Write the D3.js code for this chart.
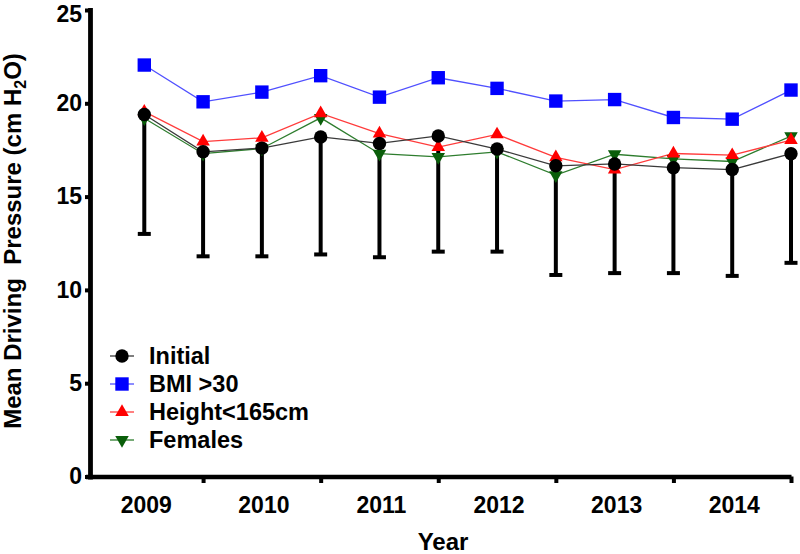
<!DOCTYPE html>
<html>
<head>
<meta charset="utf-8">
<script src="https://cdn.jsdelivr.net/npm/d3@7"></script>
<style>
  html, body { margin: 0; padding: 0; background: #fff; }
  svg { display: block; font-family: "Liberation Sans", Arial, sans-serif; }
</style>
</head>
<body>
<svg id="chart" width="800" height="554"></svg>
<script>
// ---- data ----
const years = ["2009", "2010", "2011", "2012", "2013", "2014"];
const periods = [1, 2, 3, 4, 5, 6, 7, 8, 9, 10, 11, 12];
const initialMean = [19.4, 17.4, 17.6, 18.2, 17.85, 18.25, 17.55, 16.65, 16.75, 16.55, 16.45, 17.3];
const initialSD   = [6.4, 5.6, 5.8, 6.3, 6.1, 6.2, 5.5, 5.85, 5.85, 5.65, 5.7, 5.85];
const bmiOver30   = [22.05, 20.08, 20.6, 21.48, 20.33, 21.37, 20.8, 20.12, 20.2, 19.24, 19.15, 20.71];
const heightUnder165 = [19.55, 17.95, 18.15, 19.46, 18.38, 17.65, 18.33, 17.1, 16.45, 17.31, 17.22, 18.03];
const females     = [19.2, 17.3, 17.58, 19.22, 17.3, 17.13, 17.4, 16.15, 17.27, 17.02, 16.88, 18.24];
const yTicks = [0, 5, 10, 15, 20, 25];

const series = [
  { name: "Females",        values: females,        marker: "down",   fill: "#0a5e0a", line: "#2e7d2e" },
  { name: "Height<165cm",   values: heightUnder165, marker: "up",     fill: "#ff0000", line: "#ff3b3b" },
  { name: "BMI >30",        values: bmiOver30,      marker: "square", fill: "#0000ff", line: "#5050ff" },
  { name: "Initial",        values: initialMean,    marker: "circle", fill: "#000000", line: "#3a3a3a" }
];
const legendOrder = ["Initial", "BMI >30", "Height<165cm", "Females"];

// ---- scales ----
const svg = d3.select("#chart");
const x = d3.scaleLinear().domain([0, 12]).range([85.5, 791]);
const y = d3.scaleLinear().domain([0, 25]).range([476.5, 10]);
const axisX0 = 90;

function markerPath(type) {
  if (type === "circle") {
    const r = 6.7;
    return `M${-r},0A${r},${r} 0 1,0 ${r},0A${r},${r} 0 1,0 ${-r},0Z`;
  }
  if (type === "square") {
    const h = 6.7;
    return `M${-h},${-h}H${h}V${h}H${-h}Z`;
  }
  const s = 13.5, hgt = s * Math.sqrt(3) / 2;
  if (type === "up") return `M0,${-hgt * 2 / 3}L${s / 2},${hgt / 3}L${-s / 2},${hgt / 3}Z`;
  return `M0,${hgt * 2 / 3}L${s / 2},${-hgt / 3}L${-s / 2},${-hgt / 3}Z`;
}

// ---- axes ----
const yAxis = svg.append("g")
  .attr("transform", `translate(${axisX0},0)`)
  .call(d3.axisLeft(y).tickValues(yTicks).tickSize(5).tickSizeOuter(0).tickPadding(3));
yAxis.select(".domain").attr("stroke-width", 4.8).attr("stroke", "#000").attr("stroke-linecap", "square");
yAxis.selectAll(".tick line").attr("stroke-width", 4).attr("stroke", "#000");
yAxis.selectAll(".tick text").attr("font-size", 23).attr("font-weight", "bold").attr("fill", "#000")
  .attr("font-family", "'Liberation Sans', Arial, sans-serif")
  .attr("dy", d => d === 25 ? "0.48em" : "0.32em");

const xAxis = svg.append("g")
  .attr("transform", `translate(0,${y(0)})`)
  .call(d3.axisBottom(x).tickValues([2, 4, 6, 8, 10, 12]).tickSize(6.5).tickSizeOuter(0).tickFormat(""));
xAxis.select(".domain").attr("stroke-width", 4.5).attr("stroke", "#000");
xAxis.selectAll(".tick line").attr("stroke-width", 4).attr("stroke", "#000");

const xLabels = svg.append("g")
  .attr("transform", `translate(1.5,${y(0)})`)
  .call(d3.axisBottom(x).tickValues([1, 3, 5, 7, 9, 11]).tickSize(0).tickPadding(20)
    .tickFormat((d, i) => years[i]));
xLabels.select(".domain").remove();
xLabels.selectAll(".tick text").attr("font-size", 23).attr("font-weight", "bold").attr("fill", "#000")
  .attr("font-family", "'Liberation Sans', Arial, sans-serif");

// ---- axis titles ----
svg.append("text")
  .attr("transform", "translate(20.5,241) rotate(-90)")
  .attr("text-anchor", "middle")
  .attr("font-size", 24).attr("font-weight", "bold")
  .attr("xml:space", "preserve")
  .style("white-space", "pre")
  .html('Mean Driving  Pressure (cm H<tspan font-size="16" dy="5">2</tspan><tspan dy="-5">O)</tspan>');

svg.append("text")
  .attr("x", 443).attr("y", 550)
  .attr("text-anchor", "middle")
  .attr("font-size", 24).attr("font-weight", "bold")
  .text("Year");

// ---- lines ----
const line = d3.line().x((d, i) => x(periods[i])).y(d => y(d));
const plot = svg.append("g");

// error bars (Initial, lower only)
const eb = plot.append("g");
initialMean.forEach((m, i) => {
  const cx = x(periods[i]);
  eb.append("line").attr("x1", cx).attr("x2", cx)
    .attr("y1", y(m)).attr("y2", y(m - initialSD[i]))
    .attr("stroke", "#000").attr("stroke-width", 4);
  eb.append("line").attr("x1", cx - 6.5).attr("x2", cx + 6.5)
    .attr("y1", y(m - initialSD[i])).attr("y2", y(m - initialSD[i]))
    .attr("stroke", "#000").attr("stroke-width", 4);
});

series.forEach(s => {
  plot.append("path").datum(s.values)
    .attr("d", line).attr("fill", "none")
    .attr("stroke", s.line).attr("stroke-width", 1.3);
});
series.forEach(s => {
  plot.append("g").selectAll("path").data(s.values).join("path")
    .attr("transform", (d, i) => `translate(${x(periods[i])},${y(d)})`)
    .attr("d", markerPath(s.marker))
    .attr("fill", s.fill);
});

// ---- legend ----
const legend = svg.append("g");
legendOrder.forEach((name, i) => {
  const s = series.find(d => d.name === name);
  const cy = 356 + i * 28;
  legend.append("line").attr("x1", 110).attr("x2", 134).attr("y1", cy).attr("y2", cy)
    .attr("stroke", s.line).attr("stroke-width", 1.3);
  legend.append("path").attr("transform", `translate(122,${cy})`)
    .attr("d", markerPath(s.marker)).attr("fill", s.fill);
  legend.append("text").attr("x", 149).attr("y", cy + 8.3)
    .attr("font-size", 23.5).attr("font-weight", "bold").attr("fill", "#000")
    .text(name);
});
</script>
</body>
</html>
